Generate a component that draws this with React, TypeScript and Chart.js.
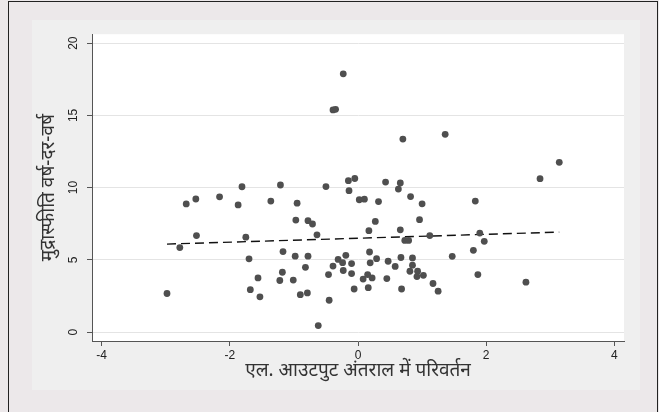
import React, { useEffect, useRef } from "react";
import { Chart, registerables } from "chart.js";

Chart.register(...registerables);

// Scatter points: change in output gap (x) vs. inflation y-o-y (y)
const xValues = [
  -2.98, -2.78, -2.68, -2.53, -2.52, -2.16, -1.81, -1.87, -1.75, -1.7,
  -1.56, -1.68, -1.53, -1.36, -1.21, -1.17, -1.18, -1.22, -1.01, -0.98,
  -0.95, -0.97, -0.9, -0.79, -0.78, -0.71, -0.64, -0.78, -0.82, -0.62,
  -0.5, -0.46, -0.45, -0.39, -0.31, -0.24, -0.19, -0.1, -0.23, -0.1,
  -0.06, -0.23, -0.39, -0.35, -0.15, -0.05, -0.14, 0.02, 0.1, 0.08,
  0.15, 0.16, 0.18, 0.19, 0.17, 0.27, 0.29, 0.22, 0.32, 0.43,
  0.45, 0.47, 0.58, 0.66, 0.63, 0.67, 0.68, 0.66, 0.73, 0.79,
  0.7, 0.82, 0.81, 0.85, 0.85, 0.93, 0.92, 1.02, 0.96, 1.0,
  1.12, 1.17, 1.25, 1.36, 1.47, 1.8, 1.83, 1.87, 1.9, 1.97,
  2.62, 2.84, 3.14,
];
const yValues = [
  2.67, 5.85, 8.87, 9.21, 6.68, 9.36, 10.06, 8.8, 6.57, 5.07,
  3.75, 2.93, 2.44, 9.07, 10.18, 5.57, 4.14, 3.57, 3.6, 5.25,
  8.92, 7.75, 2.59, 2.71, 7.71, 7.48, 6.73, 5.25, 4.48, 0.45,
  10.07, 3.98, 2.2, 4.57, 5.03, 4.8, 5.31, 4.74, 4.26, 4.05,
  2.98, 17.88, 15.38, 15.42, 10.48, 10.63, 9.79, 9.16, 9.2, 3.67,
  3.98, 3.07, 5.54, 4.79, 7.02, 7.66, 5.08, 3.75, 9.03, 10.38,
  3.7, 4.9, 4.54, 10.32, 9.9, 5.16, 2.98, 7.08, 6.34, 6.34,
  13.36, 9.38, 4.21, 5.13, 4.63, 4.21, 3.84, 3.93, 7.78, 8.88,
  6.68, 3.36, 2.83, 13.69, 5.24, 5.66, 9.07, 3.98, 6.85, 6.28,
  3.45, 10.62, 11.75,
];

// Fitted (dashed) line end points
const fitX = [-2.98, 3.14];
const fitY = [6.09, 6.92];

const xTickValues = [-4, -2, 0, 2, 4];
const yTickValues = [0, 5, 10, 15, 20];
const xTitle = "एल. आउटपुट अंतराल में परिवर्तन";
const yTitle = "मुद्रास्फीति वर्ष-दर-वर्ष";

const plotBg = {
  id: "plotBg",
  beforeDraw(chart: any) {
    const { ctx, chartArea } = chart;
    if (!chartArea) return;
    ctx.save();
    ctx.fillStyle = "#ffffff";
    ctx.fillRect(
      chartArea.left,
      chartArea.top,
      chartArea.right - chartArea.left,
      chartArea.bottom - chartArea.top
    );
    ctx.restore();
  },
};

const tickFont = { family: "'Liberation Sans', Arial, sans-serif", size: 12 };
const titleFont = { family: "'Noto Sans', 'Liberation Sans', sans-serif", size: 19 };

export default function App() {
  const canvasRef = useRef<HTMLCanvasElement | null>(null);

  useEffect(() => {
    if (!canvasRef.current) return;
    const points = xValues.map((x, i) => ({ x, y: yValues[i] }));
    const fit = fitX.map((x, i) => ({ x, y: fitY[i] }));
    const chart = new Chart(canvasRef.current, {
      type: "scatter",
      data: {
        datasets: [
          {
            data: points,
            backgroundColor: "#4f4f4f",
            borderWidth: 0,
            pointRadius: 3.4,
            pointHoverRadius: 3.4,
          },
          {
            type: "line",
            data: fit,
            showLine: true,
            borderColor: "#111111",
            borderWidth: 1.4,
            borderDash: [9, 5],
            pointRadius: 0,
            fill: false,
          } as any,
        ],
      },
      options: {
        animation: false,
        responsive: false,
        maintainAspectRatio: false,
        layout: { padding: { top: 13, right: 16, left: 0, bottom: 0 } },
        plugins: {
          legend: { display: false },
          tooltip: { enabled: false },
        },
        scales: {
          x: {
            type: "linear",
            min: -4.15,
            max: 4.15,
            afterBuildTicks: (s: any) => {
              s.ticks = xTickValues.map((v) => ({ value: v }));
            },
            afterFit: (s: any) => {
              s.height = 49;
            },
            ticks: {
              font: tickFont,
              color: "#222",
              padding: 2,
              maxRotation: 0,
              minRotation: 0,
            },
            grid: {
              drawOnChartArea: false,
              drawTicks: true,
              tickLength: 5,
              color: "#555",
              tickColor: "#555",
            },
            border: { color: "#555", width: 1 },
            title: {
              display: true,
              text: xTitle,
              font: titleFont,
              color: "#333",
              padding: { top: 0, bottom: 8 },
            },
          },
          y: {
            type: "linear",
            min: -0.62,
            max: 20.62,
            afterBuildTicks: (s: any) => {
              s.ticks = yTickValues.map((v) => ({ value: v }));
            },
            afterFit: (s: any) => {
              s.width = 60;
            },
            ticks: {
              font: tickFont,
              color: "#222",
              padding: 7,
              minRotation: 90,
              maxRotation: 90,
              crossAlign: "center",
            },
            grid: {
              drawOnChartArea: true,
              drawTicks: true,
              tickLength: 5,
              color: "#e4e4e4",
              tickColor: "#555",
            },
            border: { color: "#555", width: 1 },
            title: {
              display: true,
              text: yTitle,
              font: titleFont,
              color: "#333",
              padding: { top: 5, bottom: 0 },
            },
          },
        },
      },
      plugins: [plotBg],
    });
    return () => chart.destroy();
  }, []);

  return (
    <div
      style={{
        position: "absolute",
        left: 0,
        top: 0,
        width: 659,
        height: 412,
        background: "#ece8ea",
        overflow: "hidden",
      }}
    >
      <div
        style={{
          position: "absolute",
          left: 8,
          top: 1,
          width: 650,
          height: 430,
          border: "1px solid #222",
          boxSizing: "border-box",
        }}
      />
      <div
        style={{
          position: "absolute",
          left: 32,
          top: 20,
          width: 608,
          height: 370,
          background: "#efefef",
        }}
      >
        <canvas
          ref={canvasRef}
          width={608}
          height={370}
          style={{ display: "block", width: 608, height: 370 }}
        />
      </div>
    </div>
  );
}
